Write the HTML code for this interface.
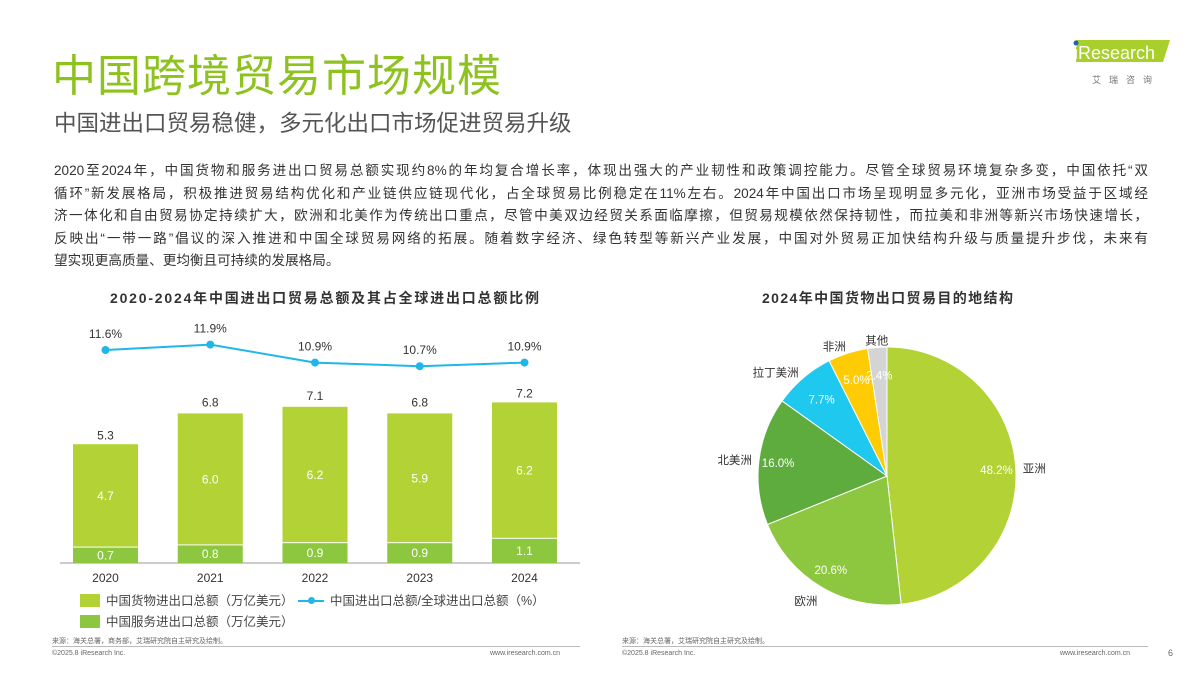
<!DOCTYPE html>
<html><head><meta charset="utf-8"><style>
body{margin:0;width:1200px;height:675px;background:#fff;font-family:"Liberation Sans","Noto Sans CJK SC",sans-serif;position:relative;overflow:hidden;color:#333}
.a{position:absolute;white-space:nowrap}
.pl{width:1094px;text-align:justify;text-align-last:justify;white-space:nowrap;height:22.5px;overflow:visible}
</style></head><body>
<div class="a" style="left:52px;top:40px;font-size:44px;color:#8dc21f;letter-spacing:1px">中国跨境贸易市场规模</div>
<div class="a" style="left:54px;top:106px;font-size:22.5px;color:#555">中国进出口贸易稳健，多元化出口市场促进贸易升级</div>
<div class="a" style="left:1066px;top:36px;width:110px;height:54px">
<svg width="110" height="54"><polygon points="10,4 104,4 97,26 10,26" fill="#a9cf2b"/><circle cx="10" cy="7" r="2.5" fill="#1f63b5"/><text x="8" y="23" font-size="18" fill="#fff" font-family="Liberation Sans">iResearch</text><text x="26" y="47" font-size="9" fill="#777" letter-spacing="8">艾瑞咨询</text></svg></div>
<div class="a" style="left:54px;top:160px;font-size:13.6px;line-height:22.5px;color:#333">
<div class="pl">2020至2024年，中国货物和服务进出口贸易总额实现约8%的年均复合增长率，体现出强大的产业韧性和政策调控能力。尽管全球贸易环境复杂多变，中国依托“双</div>
<div class="pl">循环”新发展格局，积极推进贸易结构优化和产业链供应链现代化，占全球贸易比例稳定在11%左右。2024年中国出口市场呈现明显多元化，亚洲市场受益于区域经</div>
<div class="pl">济一体化和自由贸易协定持续扩大，欧洲和北美作为传统出口重点，尽管中美双边经贸关系面临摩擦，但贸易规模依然保持韧性，而拉美和非洲等新兴市场快速增长，</div>
<div class="pl">反映出“一带一路”倡议的深入推进和中国全球贸易网络的拓展。随着数字经济、绿色转型等新兴产业发展，中国对外贸易正加快结构升级与质量提升步伐，未来有</div>
<div>望实现更高质量、更均衡且可持续的发展格局。</div>
</div>
<div class="a" style="left:110px;top:288px;font-size:14px;font-weight:bold;color:#333;letter-spacing:1.8px">2020-2024年中国进出口贸易总额及其占全球进出口总额比例</div>
<div class="a" style="left:762px;top:288px;font-size:14px;font-weight:bold;color:#333;letter-spacing:1.4px">2024年中国货物出口贸易目的地结构</div>
<svg id="bar" class="a" style="left:0;top:0" width="600" height="675"></svg>
<svg id="pie" class="a" style="left:600px;top:0" width="600" height="675"></svg>
<div class="a" style="left:80px;top:590px;font-size:12.5px;color:#444"><span style="display:inline-block;width:20px;height:13px;background:#b2d235;vertical-align:-2px;margin-right:6px"></span>中国货物进出口总额（万亿美元）</div>
<div class="a" style="left:298px;top:590px;font-size:12.5px;color:#444"><span style="display:inline-block;width:26px;height:13px;vertical-align:-2px;margin-right:6px;position:relative"><span style="position:absolute;left:0;top:6px;width:26px;height:2px;background:#1fb7ea"></span><span style="position:absolute;left:10px;top:3px;width:7px;height:7px;border-radius:50%;background:#1fb7ea"></span></span>中国进出口总额/全球进出口总额（%）</div>
<div class="a" style="left:80px;top:611px;font-size:12.5px;color:#444"><span style="display:inline-block;width:20px;height:13px;background:#8dc63f;vertical-align:-2px;margin-right:6px"></span>中国服务进出口总额（万亿美元）</div>
<div class="a" style="left:52px;top:636px;font-size:7px;color:#666">来源：海关总署，商务部，艾瑞研究院自主研究及绘制。</div>
<div class="a" style="left:52px;top:646px;width:528px;height:1px;background:#bbb"></div>
<div class="a" style="left:52px;top:650px;font-size:7px;color:#666">©2025.8 iResearch Inc.</div>
<div class="a" style="left:490px;top:650px;font-size:7px;color:#666">www.iresearch.com.cn</div>
<div class="a" style="left:622px;top:636px;font-size:7px;color:#666">来源：海关总署，艾瑞研究院自主研究及绘制。</div>
<div class="a" style="left:622px;top:646px;width:526px;height:1px;background:#bbb"></div>
<div class="a" style="left:622px;top:650px;font-size:7px;color:#666">©2025.8 iResearch Inc.</div>
<div class="a" style="left:1060px;top:650px;font-size:7px;color:#666">www.iresearch.com.cn</div>
<div class="a" style="left:1168px;top:648px;font-size:9px;color:#666">6</div>
<script>
const years=['2020','2021','2022','2023','2024'];
const goods=[4.7,6.0,6.2,5.9,6.2];
const services=[0.7,0.8,0.9,0.9,1.1];
const totals=[5.3,6.8,7.1,6.8,7.2];
const ratio=[11.6,11.9,10.9,10.7,10.9];
const regions=['亚洲','欧洲','北美洲','拉丁美洲','非洲','其他'];
const shares=[48.2,20.6,16.0,7.7,5.0,2.4];
const NS='http://www.w3.org/2000/svg';
function mk(p,t,a,txt){const e=document.createElementNS(NS,t);for(const k in a)e.setAttribute(k,a[k]);if(txt!=null)e.textContent=txt;p.appendChild(e);return e;}
const bar=document.getElementById('bar');
const base=563,k=22,x0=105.5,dx=104.75,bw=65;
const xs=i=>x0+i*dx, ys=v=>base-v*k, yr=v=>350-(v-11.6)*18;
let e=mk(bar,'line',{x1:60,x2:580,y1:base,y2:base,stroke:'#bbb','stroke-width':1.5});

years.forEach((y,i)=>{
 const x=xs(i);
 e=mk(bar,'rect',{x:x-bw/2,y:ys(services[i]),width:bw,height:services[i]*k,fill:'#8dc63f'});
 
 e=mk(bar,'rect',{x:x-bw/2,y:ys(services[i]+goods[i]),width:bw,height:goods[i]*k-1,fill:'#b2d235'});
 
 e=mk(bar,'text',{x:x,y:ys(services[i]/2)+4,'text-anchor':'middle','font-size':12,fill:'#fff'},services[i].toFixed(1));
 
 e=mk(bar,'text',{x:x,y:ys(services[i]+goods[i]/2)+4,'text-anchor':'middle','font-size':12,fill:'#fff'},goods[i].toFixed(1));
 
 e=mk(bar,'text',{x:x,y:ys(totals[i])-7,'text-anchor':'middle','font-size':12,fill:'#333'},totals[i].toFixed(1));
 
 e=mk(bar,'text',{x:x,y:582,'text-anchor':'middle','font-size':12,fill:'#333'},y);
 
});
e=mk(bar,'polyline',{points:ratio.map((v,i)=>xs(i)+','+yr(v)).join(' '),fill:'none',stroke:'#1fb7ea','stroke-width':2});

ratio.forEach((v,i)=>{
 e=mk(bar,'circle',{cx:xs(i),cy:yr(v),r:4,fill:'#1fb7ea'});
 
 e=mk(bar,'text',{x:xs(i),y:yr(v)-12,'text-anchor':'middle','font-size':12,fill:'#333'},v.toFixed(1)+'%');
 
});
const pie=document.getElementById('pie');
const cx=287,cy=476,R=129;
const colors=['#b2d235','#8dc63f','#5fac3e','#1ec8ef','#ffcb05','#d4d4d4'];
const total=shares.reduce((a,b)=>a+b,0);
let ang=0;
shares.forEach((s,i)=>{
 const a0=ang,a1=ang+s/total*2*Math.PI;ang=a1;
 const p=a=>[cx+R*Math.sin(a),cy-R*Math.cos(a)];
 const [x0p,y0p]=p(a0),[x1p,y1p]=p(a1);
 e=mk(pie,'path',{d:`M${cx},${cy}L${x0p},${y0p}A${R},${R} 0 ${a1-a0>Math.PI?1:0} 1 ${x1p},${y1p}Z`,fill:colors[i],stroke:'#fff','stroke-width':1});
 
 const m=(a0+a1)/2, rr=i>=3?R*0.78:R*0.85;
 e=mk(pie,'text',{x:cx+rr*Math.sin(m),y:cy-rr*Math.cos(m)+4,'text-anchor':'middle','font-size':11.5,fill:'#fff'},s.toFixed(1)+'%');
 
 const ro=R+7,lx=cx+ro*Math.sin(m),ly=cy-ro*Math.cos(m)+(Math.cos(m)<-0.5?12:4);
 e=mk(pie,'text',{x:lx,y:ly,'text-anchor':Math.sin(m)>0.3?'start':(Math.sin(m)<-0.3?'end':'middle'),'font-size':11.5,fill:'#333'},regions[i]);
 
});
</script>
</body></html>
